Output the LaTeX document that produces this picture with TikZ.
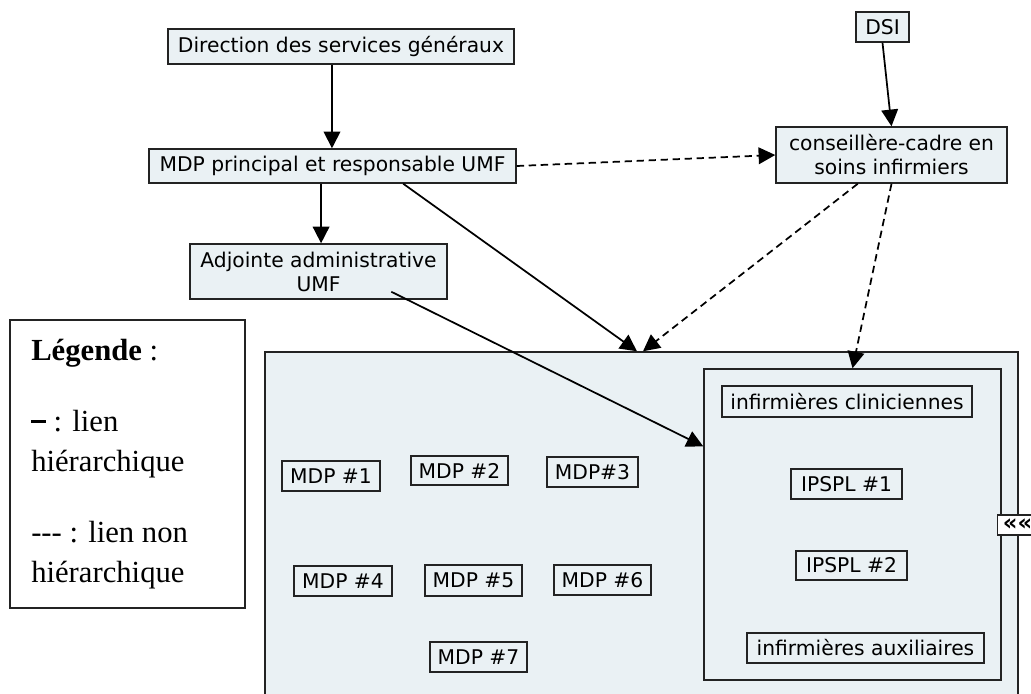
\documentclass[tikz,border=0pt]{standalone}
\usepackage{fontspec}
\setmainfont{Liberation Serif}
\newfontfamily\vf{DejaVu Sans}
\usetikzlibrary{arrows.meta,calc}
\definecolor{boxfill}{RGB}{234,241,244}
\definecolor{edge}{RGB}{35,35,35}
\tikzset{
  box/.style={draw=edge,line width=1.1pt,fill=boxfill,inner sep=0pt,align=center,
    font=\vf\fontsize{15.2}{18}\selectfont,text=black},
  hier/.style={line width=1.3pt,-{Triangle[length=12.5pt,width=12.5pt]}},
  nonhier/.style={hier,dash pattern=on 5.5pt off 3.5pt},
  legtext/.style={anchor=base west,inner sep=0pt,font=\fontsize{23}{27}\selectfont}
}
\begin{document}
\begin{tikzpicture}[x=0.75pt,y=-0.75pt]
\clip (0,0) rectangle (1031,693);
\fill[white] (0,0) rectangle (1031,693);
% top nodes
\node[box,minimum width=259.5pt,minimum height=26.25pt] (dir) at (341,46.5) {Direction des services généraux};
\node[box,minimum width=275.25pt,minimum height=25.5pt] (mdp) at (332.5,166) {MDP principal et responsable UMF};
\node[box,minimum width=39.75pt,minimum height=22.5pt] (dsi) at (882.5,27) {DSI};
\node[box,minimum width=173.25pt,minimum height=42pt,font=\vf\fontsize{15.2}{18}\selectfont] (cons) at (891.5,155) {conseillère-cadre en\\soins infirmiers};
\node[box,minimum width=192.75pt,minimum height=41.25pt,font=\vf\fontsize{15.2}{18}\selectfont] (adj) at (318.5,271.5) {Adjointe administrative\\UMF};
% legend
\node[draw=edge,line width=0.8pt,fill=white,minimum width=176.25pt,minimum height=216pt,inner sep=0pt] (legend) at (127.5,464) {};
\node[legtext] (l1) at (31,360) {\textbf{Légende} :};
\node[legtext] (l2) at (31,431) {\rule[6pt]{11pt}{2pt} : lien};
\node[legtext] (l3) at (31,471) {hiérarchique};
\node[legtext] (l4) at (31,542) {-{}-{}- : lien non};
\node[legtext] (l5) at (31,582) {hiérarchique};
% team box
\node[box,minimum width=564.75pt,minimum height=276pt] (team) at (641.5,536) {};
\node[box,minimum width=222.75pt,minimum height=233.25pt] (inner) at (852.5,524.5) {};
\node[box,minimum width=187.5pt,minimum height=23.25pt] (clin) at (847,401.5) {infirmières cliniciennes};
\node[box,minimum width=83.25pt,minimum height=22.5pt] (ip1) at (846.5,484) {IPSPL \#1};
\node[box,minimum width=83.25pt,minimum height=21.75pt] (ip2) at (851.5,565.5) {IPSPL \#2};
\node[box,minimum width=177.75pt,minimum height=22.5pt] (aux) at (865.5,648) {infirmières auxiliaires};
\node[box,minimum width=73.5pt,minimum height=22.5pt] (m1) at (331,476) {MDP \#1};
\node[box,minimum width=72.75pt,minimum height=22pt] (m2) at (459.5,470.5) {MDP \#2};
\node[box,minimum width=68.25pt,minimum height=22.5pt] (m3) at (592.5,472) {MDP\#3};
\node[box,minimum width=73.5pt,minimum height=22.5pt] (m4) at (343,581) {MDP \#4};
\node[box,minimum width=72.75pt,minimum height=23pt] (m5) at (473.5,580.5) {MDP \#5};
\node[box,minimum width=72.75pt,minimum height=22.5pt] (m6) at (602.5,580) {MDP \#6};
\node[box,minimum width=72.75pt,minimum height=22.5pt] (m7) at (478.5,657) {MDP \#7};
\node[draw=edge,line width=0.9pt,fill=white,minimum width=30pt,minimum height=15pt,inner sep=0pt,anchor=west,font=\vf\bfseries\fontsize{17}{17}\selectfont] (chev) at (997,525) {\raisebox{-1pt}{««}};
% connectors
\coordinate (mT) at ($(mdp.north west)!0.4986!(mdp.north east)$);
\draw[hier] (mT |- dir.south) -- (mT);
\draw[hier] (dsi.south) -- (cons.north);
\draw[nonhier] (mdp.east) -- (cons.west);
\coordinate (mA) at ($(mdp.south west)!0.469!(mdp.south east)$);
\draw[hier] (mA) -- (mA |- adj.north);
\draw[hier] ($(mdp.south west)!0.692!(mdp.south east)$) -- ($(team.north west)!0.494!(team.north east)$);
\draw[nonhier] ($(cons.south west)!0.355!(cons.south east)$) -- ($(team.north west)!0.502!(team.north east)$);
\draw[nonhier] (cons.south) -- (inner.north);
\draw[hier] ($(adj.south west)+(202,-8)$) -- ($(inner.north west)!0.25!(inner.south west)$);
\end{tikzpicture}
\end{document}
